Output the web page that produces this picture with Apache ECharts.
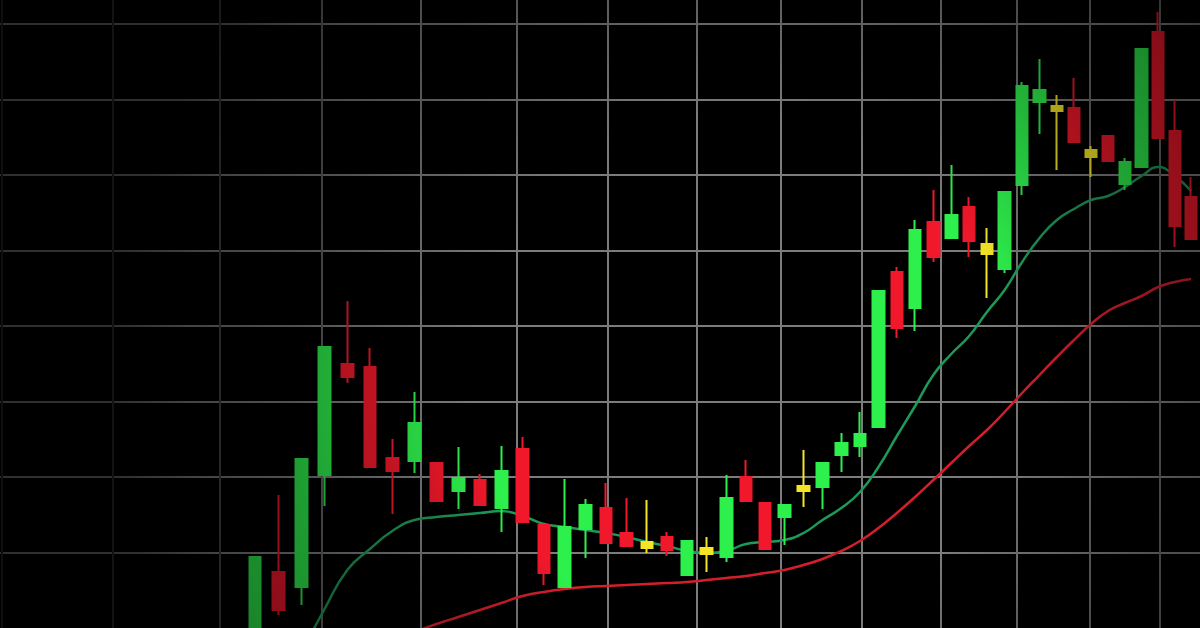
<!DOCTYPE html>
<html>
<head>
<meta charset="utf-8">
<script src="https://cdn.jsdelivr.net/npm/echarts@6/dist/echarts.min.js"></script>
<style>
html,body{margin:0;padding:0;background:#000;}
#chart{width:1200px;height:628px;}
</style>
</head>
<body>
<div id="chart"></div>
<script>
// ---- data ----
// trading-day numbers (x), drawn on a log scale to mimic the photo's perspective
const day = [110,111,112,113,114,115,116,117,118,119,120,121,122,123,124,125,126,127,128,129,
             130,131,132,133,134,135,136,137,138,139,140,141,142,143,144,145,146,147,148,149,
             150,151,152,153,154,155,156,157,158];
const openP  = [-20, 56, 41,153,264,261,170,167,165,137,148,120,179,103, 41, 99,120, 95, 86, 91,
                 53, 80, 71,151,125,111,142,141,173,182,201,356,320,406,390,421,384,359,443,526,
                522,520,478,492,444,461,596,497,431];
const closeP = [ 71, 18,169,281,251,161,157,205,127,150,123,157,106, 55,101,123, 85, 82, 80, 78,
                 87, 74,130,127, 79,123,137,165,185,194,337,300,398,371,413,387,374,436,542,538,
                517,486,471,467,466,579,490,402,389];
const lowP   = [-30, 13, 23,122,245,161,114,155,127,119,123, 96,106, 43, 41, 70, 85, 82, 75, 72,
                 53, 56, 66,127, 79, 83,121,119,156,171,201,290,297,366,390,371,330,355,433,494,
                458,486,451,467,438,461,490,381,389];
const highP  = [ 71,133,169,281,327,280,189,236,165,181,154,182,191,103,149,129,145,130,128, 96,
                 87, 91,153,168,125,123,178,165,195,216,337,361,408,438,463,431,400,436,546,569,
                533,550,482,492,470,579,616,528,451];
const maFast = [null,null,-25, 19, 58, 79, 97,108,111,113,115,117,112,104,101, 98, 95, 91, 86, 82,
                 77, 75, 77, 84, 86, 88, 95,108,120,136,161,192,222,253,274,292,316,338,366,390,
                408,419,428,432,441,452,461,452,437];
const maSlow = [null,null,null,null,null,null,-14, -4,  4, 11, 18, 25, 32, 36, 39, 41, 42, 43, 44, 45,
                 46, 48, 50, 52, 55, 58, 63, 69, 77, 87,100,115,131,148,165,182,198,216,235,253,
                271,288,304,317,325,332,341,346,349];
// vertical grid-line positions (day numbers)
const gridDays = [99.75,104.1,108.5,112.9,117.3,121.7,126.1,130.5,134.8,139.1,143.4,147.7,151.9,156.1];

// ---- styles ----
const UP = '#2ef04c', DOWN = '#f0182a', DOJI = '#f4e526';

const candles = day.map((d, i) => {
  const item = { value: [d, openP[i], closeP[i], lowP[i], highP[i]] };
  if (Math.abs(closeP[i] - openP[i]) <= 10) {
    item.itemStyle = { color: DOJI, color0: DOJI, borderColor: DOJI, borderColor0: DOJI };
  }
  return item;
});
const pairs = (arr) => day.map((d, i) => [d, arr[i]]).filter(p => p[1] !== null);

const chart = echarts.init(document.getElementById('chart'), null, { renderer: 'canvas' });
const vColors = ['#262626','#333333','#454545','#626262','#7c7c7c','#7c7c7c','#7c7c7c',
                 '#7c7c7c','#7c7c7c','#7c7c7c','#7c7c7c','#777777','#6e6e6e','#666666'];

chart.setOption({
  backgroundColor: '#000',
  animation: false,
  grid: { left: 0, right: 0, top: 0, bottom: 0, outerBoundsMode: 'none' },
  xAxis: {
    type: 'log', min: 99.67, max: 158.54,
    axisLine: { show: false }, axisLabel: { show: false },
    axisTick: { show: false, customValues: gridDays },
    splitLine: { show: true, customValues: gridDays, lineStyle: { color: vColors, width: 2 } },
    minorSplitLine: { show: false }
  },
  yAxis: {
    type: 'value', min: 0, max: 628, interval: 75.5,
    axisLine: { show: false }, axisLabel: { show: false }, axisTick: { show: false },
    splitLine: { show: true, showMaxLine: false, showMinLine: false, lineStyle: { color: '#7c7c7c', width: 2 } }
  },
  series: [
    {
      type: 'line', name: 'MA slow', data: pairs(maSlow),
      smooth: 0.5, symbol: 'none', clip: true,
      lineStyle: { color: '#d41f2b', width: 2.5 }, z: 3
    },
    {
      type: 'line', name: 'MA fast', data: pairs(maFast),
      smooth: 0.5, symbol: 'none', clip: true,
      lineStyle: { color: '#1e9a58', width: 2.5 }, z: 3
    },
    {
      type: 'candlestick', name: 'Price', data: candles,
      barWidth: 12, clip: true, z: 4,
      itemStyle: { color: UP, color0: DOWN, borderColor: UP, borderColor0: DOWN, borderWidth: 2 }
    }
  ],
  graphic: [{
    type: 'rect', silent: true, z: 100,
    shape: { x: 0, y: 0, width: 1200, height: 628 },
    style: {
      fill: {
        type: 'radial', x: 0.617, y: 0.605, r: 1,
        colorStops: [
          { offset: 0, color: 'rgba(0,0,0,0)' },
          { offset: 0.42, color: 'rgba(0,0,0,0)' },
          { offset: 0.58, color: 'rgba(0,0,0,0.2)' },
          { offset: 0.72, color: 'rgba(0,0,0,0.35)' },
          { offset: 0.88, color: 'rgba(0,0,0,0.45)' },
          { offset: 1, color: 'rgba(0,0,0,0.62)' }
        ]
      }
    }
  }]
});
</script>
</body>
</html>
